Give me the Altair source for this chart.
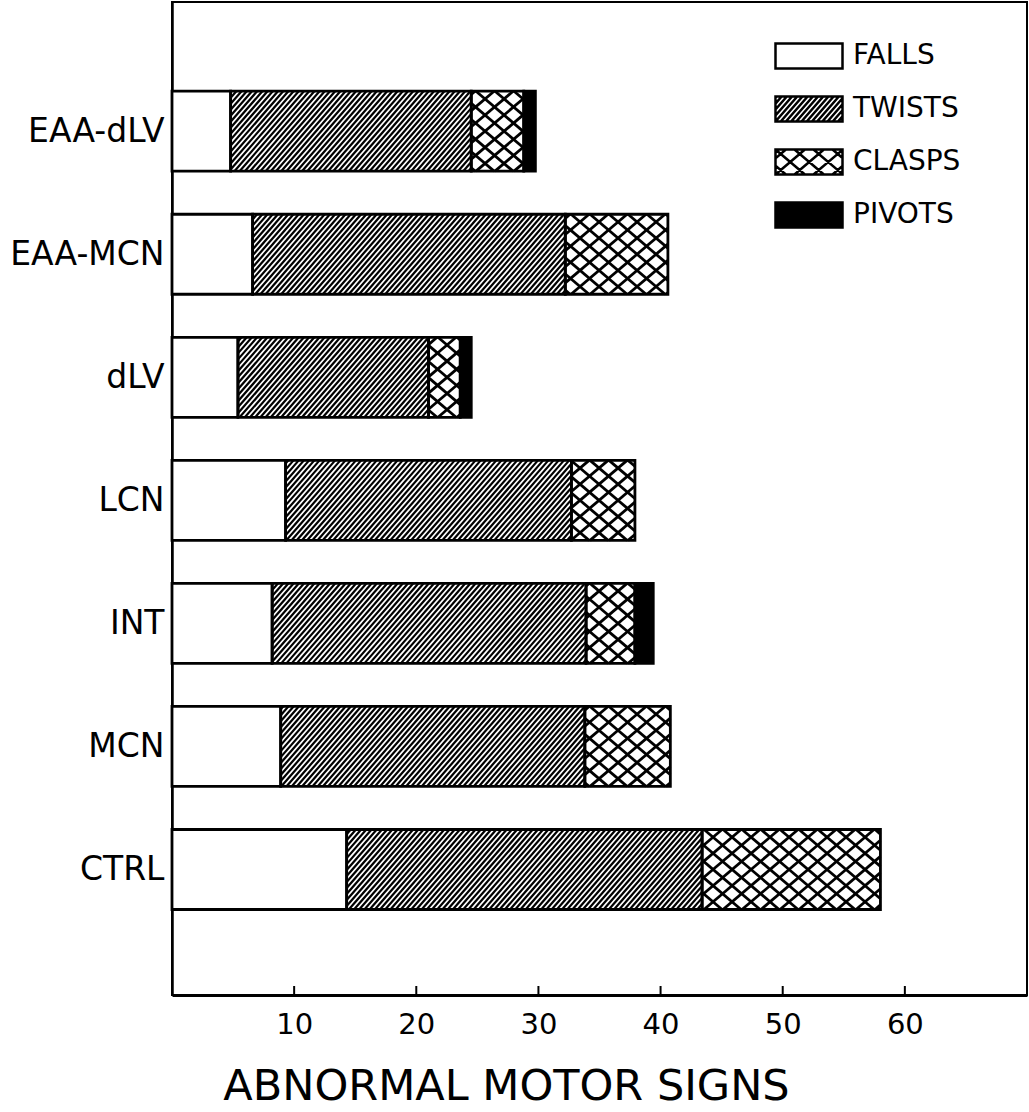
import altair as alt
import numpy as np
import pandas as pd

# ---- data -------------------------------------------------------------
categories = ["CTRL", "MCN", "INT", "LCN", "dLV", "EAA-MCN", "EAA-dLV"]
groups = ["FALLS", "TWISTS", "CLASPS", "PIVOTS"]
falls = [14.3, 8.9, 8.2, 9.3, 5.4, 6.6, 4.8]
twists = [29.1, 24.9, 25.7, 23.4, 15.6, 25.6, 19.7]
clasps = [14.6, 7.0, 4.0, 5.2, 2.6, 8.4, 4.3]
pivots = [0.0, 0.0, 1.5, 0.0, 0.9, 0.0, 0.95]
x_ticks = [10, 20, 30, 40, 50, 60]

# ---- layout / style constants -----------------------------------------
W, H = 855, 993
X_MAX = 70
Y_LO, Y_HI = -1.02, 7.05
XP = W / X_MAX                 # px per x unit
YP = H / (Y_HI - Y_LO)         # px per row slot
HALF = 0.325                   # half bar height (row slots)
FONT = "DejaVu Sans"
FILLS = {"FALLS": "white", "TWISTS": "white", "CLASPS": "white", "PIVOTS": "black"}
# (slope, spacing in px, mirrored, line width)
HATCH = {"TWISTS": [(1.15, 5.2, False, 2.2)],
         "CLASPS": [(0.85, 19.0, False, 2.8), (0.85, 19.0, True, 2.8)]}


def hatch_px(a, b, hp, slope, period, flip):
    """Diagonal lines clipped to the pixel box [a, b] x [0, hp]."""
    out = []
    k0 = int(np.floor((a - hp / slope) / period)) - 1
    k1 = int(np.ceil(b / period)) + 1
    for k in range(k0, k1 + 1):
        xb = k * period
        lo = max(0.0, (a - xb) * slope)
        hi = min(hp, (b - xb) * slope)
        if hi - lo > 0.5:
            xa, xe = xb + lo / slope, xb + hi / slope
            ya, ye = lo, hi
            if flip:
                ya, ye = hp - ya, hp - ye
            out.append((xa, xe, ya, ye))
    return out


# stacked segments
rows = []
for i, cat in enumerate(categories):
    start = 0.0
    for g, vals in zip(groups, [falls, twists, clasps, pivots]):
        v = vals[i]
        if v > 0:
            rows.append(dict(cat=cat, row=i, group=g, fillcol=FILLS[g],
                             x0=start, x1=start + v, y0=i - HALF, y1=i + HALF,
                             xm=start + v / 2))
        start += v
seg = pd.DataFrame(rows)

# hatch lines inside the patterned segments
hrows = []
hp = 2 * HALF * YP
for r in rows:
    for slope, period, flip, lw in HATCH.get(r["group"], []):
        for xa, xe, ya, ye in hatch_px(r["x0"] * XP, r["x1"] * XP, hp, slope, period, flip):
            hrows.append(dict(hx0=xa / XP, hx1=xe / XP, sw=lw,
                              hy0=r["y0"] + ya / YP, hy1=r["y0"] + ye / YP))
hatch = pd.DataFrame(hrows)

ticks = pd.DataFrame({"t": x_ticks, "ty0": Y_LO, "ty1": Y_LO + 9 / YP})

# legend swatches: box outline plus its pattern, in symbol units
BOX_W, BOX_H = 67.0, 25.0
u = BOX_W / 2


def swatch_path(g):
    hy = BOX_H / 2 / u
    p = f"M-1,{-hy:.3f}H1V{hy:.3f}H-1Z"
    for slope, period, flip, lw in HATCH.get(g, []):
        for xa, xe, ya, ye in hatch_px(0, BOX_W, BOX_H, slope, period, flip):
            p += (f"M{xa / u - 1:.3f},{(BOX_H / 2 - ya) / u:.3f}"
                  f"L{xe / u - 1:.3f},{(BOX_H / 2 - ye) / u:.3f}")
    return p


shape_range = [swatch_path(g) for g in groups]
label_expr = "[" + ",".join(f"'{c}'" for c in categories) + "][datum.value]"

x_scale = alt.Scale(domain=[0, X_MAX], nice=False, zero=False)
y_scale = alt.Scale(domain=[Y_LO, Y_HI], nice=False, zero=False)

x_axis = alt.Axis(values=x_ticks, ticks=False, grid=False, domainColor="black",
                  domainWidth=3, labelFont=FONT, labelFontSize=29, labelColor="black",
                  labelPadding=15, title="ABNORMAL MOTOR SIGNS", titleFont=FONT,
                  titleFontSize=43, titleFontWeight="normal", titleColor="black",
                  titleX=334, titleY=104, titleAlign="center",
                  titleBaseline="alphabetic")
y_axis = alt.Axis(values=list(range(len(categories))), labelExpr=label_expr,
                  ticks=False, grid=False, domainColor="black", domainWidth=2.5,
                  labelFont=FONT, labelFontSize=33, labelColor="black",
                  labelPadding=8, title=None)

base = alt.Chart(seg)

fills = base.mark_rect().encode(
    x=alt.X("x0:Q", scale=x_scale, axis=x_axis),
    x2="x1:Q",
    y=alt.Y("y0:Q", scale=y_scale, axis=y_axis),
    y2="y1:Q",
    fill=alt.Fill("fillcol:N", scale=None),
)

lines = alt.Chart(hatch).mark_rule(color="black", strokeCap="butt").encode(
    x=alt.X("hx0:Q", scale=x_scale, axis=x_axis),
    x2="hx1:Q",
    y=alt.Y("hy0:Q", scale=y_scale, axis=y_axis),
    y2="hy1:Q",
    strokeWidth=alt.StrokeWidth("sw:Q", scale=None),
)

outlines = base.mark_rect(fillOpacity=0, stroke="black", strokeWidth=2.8).encode(
    x=alt.X("x0:Q", scale=x_scale, axis=x_axis),
    x2="x1:Q",
    y=alt.Y("y0:Q", scale=y_scale, axis=y_axis),
    y2="y1:Q",
)

tick_marks = alt.Chart(ticks).mark_rule(color="black", strokeWidth=2).encode(
    x=alt.X("t:Q", scale=x_scale, axis=x_axis),
    y=alt.Y("ty0:Q", scale=y_scale, axis=y_axis),
    y2="ty1:Q",
)

legend = alt.Legend(title=None, orient="none", legendX=602, legendY=19,
                    symbolSize=BOX_W * BOX_W, symbolStrokeColor="black",
                    symbolStrokeWidth=2.5, symbolOpacity=1, labelFont=FONT,
                    labelFontSize=28, labelColor="black", labelOffset=9,
                    rowPadding=-6)

# zero-size points only carry the legend
keys = base.mark_point(size=0, strokeWidth=2.5).encode(
    x=alt.X("xm:Q", scale=x_scale, axis=x_axis),
    y=alt.Y("row:Q", scale=y_scale, axis=y_axis),
    fill=alt.Fill("group:N", scale=alt.Scale(domain=groups, range=[FILLS[g] for g in groups]),
                  legend=legend),
    stroke=alt.Stroke("group:N", scale=alt.Scale(domain=groups, range=["black"] * len(groups)),
                      legend=legend),
    shape=alt.Shape("group:N", scale=alt.Scale(domain=groups, range=shape_range),
                    legend=legend),
)

chart = alt.layer(fills, lines, outlines, tick_marks, keys).properties(
    width=W, height=H,
    padding={"left": 172, "top": 2, "right": 2, "bottom": 117},
    autosize=alt.AutoSizeParams(type="none"),
    background="white",
).configure_view(stroke="black", strokeWidth=2)

chart.save("out.html", embed_options={"renderer": "svg", "actions": False})
